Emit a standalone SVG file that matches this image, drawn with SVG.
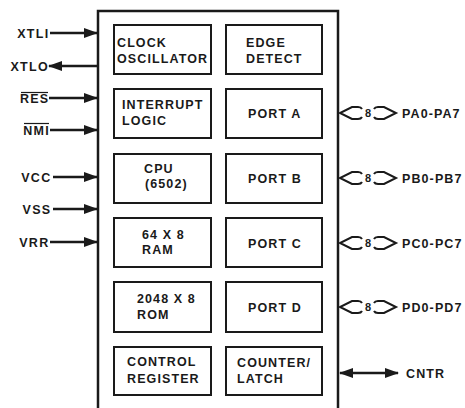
<svg xmlns="http://www.w3.org/2000/svg" width="465" height="408" viewBox="0 0 465 408">
<defs>
<style>
.t{font-family:"Liberation Sans",Arial,sans-serif;font-weight:bold;font-size:12.5px;letter-spacing:1.1px;fill:#1a1a1a}
.s{font-family:"Liberation Sans",Arial,sans-serif;font-weight:bold;font-size:12.5px;letter-spacing:1.3px;fill:#1a1a1a;text-anchor:end}
.b{fill:#fff;stroke:#1a1a1a;stroke-width:2}
.w{stroke:#1a1a1a;stroke-width:2.4;fill:none}
.bus{stroke:#1a1a1a;stroke-width:2;fill:none;stroke-linejoin:miter}
.n{font-family:"Liberation Sans",Arial,sans-serif;font-weight:bold;font-size:11px;fill:#1a1a1a;text-anchor:middle}
</style>
<marker id="ah" viewBox="0 0 14 10" refX="13" refY="5" markerWidth="14" markerHeight="10" markerUnits="userSpaceOnUse" orient="auto-start-reverse">
<path d="M0,0 L14,5 L0,10 z" fill="#1a1a1a"/>
</marker>
</defs>
<rect width="465" height="408" fill="#fff"/>
<g id="chip"><rect x="98" y="11" width="240" height="420" fill="none" stroke="#1a1a1a" stroke-width="2.5"/></g>

<g id="clock"><rect class="b" x="114" y="25" width="97" height="49"/><text class="t" x="117" y="47">CLOCK</text><text class="t" x="117" y="63">OSCILLATOR</text></g>
<g id="interrupt"><rect class="b" x="114" y="89" width="97" height="49"/><text class="t" x="122" y="109">INTERRUPT</text><text class="t" x="122" y="125">LOGIC</text></g>
<g id="cpu"><rect class="b" x="114" y="154" width="97" height="49"/><text class="t" x="144" y="173">CPU</text><text class="t" x="145" y="188">(6502)</text></g>
<g id="ram"><rect class="b" x="114" y="218" width="97" height="49"/><text class="t" x="142" y="239">64 X 8</text><text class="t" x="142" y="254">RAM</text></g>
<g id="rom"><rect class="b" x="114" y="282" width="97" height="50"/><text class="t" x="137" y="303">2048 X 8</text><text class="t" x="137" y="319">ROM</text></g>
<g id="control"><rect class="b" x="114" y="347" width="97" height="48"/><text class="t" x="127" y="366">CONTROL</text><text class="t" x="127" y="383">REGISTER</text></g>

<g id="edge"><rect class="b" x="226" y="25" width="96" height="49"/><text class="t" x="246" y="47">EDGE</text><text class="t" x="246" y="63">DETECT</text></g>
<g id="porta"><rect class="b" x="226" y="89" width="96" height="49"/><text class="t" x="248" y="118">PORT A</text></g>
<g id="portb"><rect class="b" x="226" y="154" width="96" height="49"/><text class="t" x="248" y="183">PORT B</text></g>
<g id="portc"><rect class="b" x="226" y="218" width="96" height="49"/><text class="t" x="248" y="248">PORT C</text></g>
<g id="portd"><rect class="b" x="226" y="282" width="96" height="50"/><text class="t" x="248" y="312">PORT D</text></g>
<g id="counter"><rect class="b" x="226" y="347" width="96" height="48"/><text class="t" x="237" y="367">COUNTER/</text><text class="t" x="237" y="383">LATCH</text></g>

<g id="labels">
<text class="s" x="49.5" y="37.5">XTLI</text>
<text class="s" x="49" y="70.5">XTLO</text>
<text class="s" x="49.5" y="102.5">RES</text>
<line x1="21" y1="92.5" x2="48" y2="92.5" stroke="#1a1a1a" stroke-width="1.2"/>
<text class="s" x="50" y="134.5">NMI</text>
<line x1="24" y1="123.5" x2="49" y2="123.5" stroke="#1a1a1a" stroke-width="1.2"/>
<text class="s" x="51.5" y="181.5">VCC</text>
<text class="s" x="51.5" y="213.5">VSS</text>
<text class="s" x="49.5" y="246.5">VRR</text>
<text class="t" x="402" y="117.5">PA0-PA7</text>
<text class="t" x="402" y="182.5">PB0-PB7</text>
<text class="t" x="402" y="247.5">PC0-PC7</text>
<text class="t" x="402" y="311.5">PD0-PD7</text>
<text class="t" x="406" y="377.5">CNTR</text>
</g>

<g id="connectors">
<line class="w" x1="50" y1="33" x2="97" y2="33" marker-end="url(#ah)"/>
<line class="w" x1="97" y1="66" x2="49" y2="66" marker-end="url(#ah)"/>
<line class="w" x1="49" y1="98" x2="97" y2="98" marker-end="url(#ah)"/>
<line class="w" x1="50" y1="130" x2="97" y2="130" marker-end="url(#ah)"/>
<line class="w" x1="53" y1="177" x2="97" y2="177" marker-end="url(#ah)"/>
<line class="w" x1="53" y1="209" x2="97" y2="209" marker-end="url(#ah)"/>
<line class="w" x1="50" y1="242" x2="97" y2="242" marker-end="url(#ah)"/>
<line class="w" x1="340" y1="373" x2="398" y2="373" marker-start="url(#ah)" marker-end="url(#ah)"/>

<g id="busA">
<path class="bus" d="M362,109 Q361,107 358,107 L352,107 L340,113 L352,119 L358,119 Q361,119 362,117"/>
<text class="n" x="368" y="116.5">8</text>
<path class="bus" d="M374,109 Q375,107 378,107 L384,107 L396,113 L384,119 L378,119 Q375,119 374,117"/>
</g>
<g id="busB">
<path class="bus" d="M362,174 Q361,172 358,172 L352,172 L340,178 L352,184 L358,184 Q361,184 362,182"/>
<text class="n" x="368" y="181.5">8</text>
<path class="bus" d="M374,174 Q375,172 378,172 L384,172 L396,178 L384,184 L378,184 Q375,184 374,182"/>
</g>
<g id="busC">
<path class="bus" d="M362,239 Q361,237 358,237 L352,237 L340,243 L352,249 L358,249 Q361,249 362,247"/>
<text class="n" x="368" y="246.5">8</text>
<path class="bus" d="M374,239 Q375,237 378,237 L384,237 L396,243 L384,249 L378,249 Q375,249 374,247"/>
</g>
<g id="busD">
<path class="bus" d="M362,303 Q361,301 358,301 L352,301 L340,307 L352,313 L358,313 Q361,313 362,311"/>
<text class="n" x="368" y="310.5">8</text>
<path class="bus" d="M374,303 Q375,301 378,301 L384,301 L396,307 L384,313 L378,313 Q375,313 374,311"/>
</g>
</g>
</svg>
